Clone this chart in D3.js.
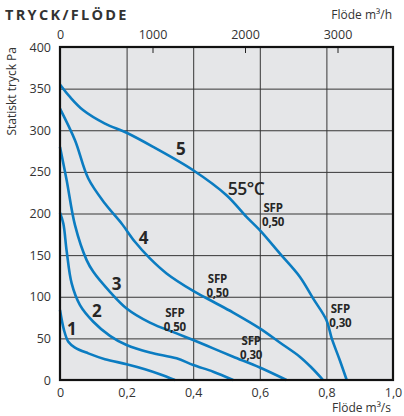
<!DOCTYPE html>
<html>
<head>
<meta charset="utf-8">
<script src="https://cdn.jsdelivr.net/npm/d3@7"></script>
<style>
  body { margin: 0; background: #fff; }
  svg { display: block; }
  text { font-family: "Open Sans", "Noto Sans", sans-serif; }
</style>
</head>
<body>
<svg id="chart" width="404" height="416"></svg>
<script>
// Axis ticks
const flowTicks = [0, 0.2, 0.4, 0.6, 0.8, 1.0];          // m³/s
const hourTicks = [0, 1000, 2000, 3000];                  // m³/h
const pressureTicks = [0, 50, 100, 150, 200, 250, 300, 350, 400]; // Pa

// Fan curves: flow (m³/s) and static pressure (Pa)
const curveNames = ["1", "2", "3", "4", "5"];
const flow1 = [0, 0.012, 0.025, 0.045, 0.085, 0.135, 0.2, 0.255, 0.3, 0.345];
const pres1 = [84, 60, 46, 39, 32, 25, 19, 13, 7, 0];
const flow2 = [0, 0.01, 0.02, 0.035, 0.06, 0.1, 0.15, 0.2, 0.27, 0.35, 0.4, 0.46, 0.52];
const pres2 = [201, 188, 155, 116, 90, 70, 53, 42, 33, 26, 18, 10, 0];
const flow3 = [0, 0.02, 0.045, 0.08, 0.1, 0.15, 0.2, 0.27, 0.35, 0.4, 0.46, 0.52, 0.6, 0.68];
const pres3 = [280, 240, 186, 144, 130, 106, 86, 69, 56, 48, 38, 28, 15, 0];
const flow4 = [0, 0.045, 0.085, 0.135, 0.185, 0.225, 0.27, 0.32, 0.4, 0.46, 0.52, 0.6, 0.66, 0.72, 0.755, 0.79];
const pres4 = [326, 288, 242, 212, 188, 166, 146, 128, 107, 94, 81, 62, 45, 28, 15, 0];
const flow5 = [0, 0.03, 0.07, 0.135, 0.2, 0.28, 0.4, 0.5, 0.56, 0.6, 0.66, 0.72, 0.76, 0.8, 0.816, 0.84, 0.861];
const pres5 = [355, 340, 324, 308, 297, 280, 252, 222, 196, 180, 152, 124, 98, 72, 50, 24, 0];

const flows = [flow1, flow2, flow3, flow4, flow5];
const pressures = [pres1, pres2, pres3, pres4, pres5];

const svg = d3.select("#chart");
const plotLeft = 60, plotRight = 393, plotTop = 47, plotBottom = 380;

const x = d3.scaleLinear().domain([0, 1]).range([plotLeft, plotRight]);
const xh = d3.scaleLinear().domain([0, 3600]).range([plotLeft, plotRight]);
const y = d3.scaleLinear().domain([0, 400]).range([plotBottom, plotTop]);

const axisColor = "#333";
const gridColor = "#363636";
const curveColor = "#0b7cc1";
const comma = d => d === 0 ? "0" : d3.format(".1f")(d).replace(".", ",");

// Title and unit captions
svg.append("text")
  .attr("x", 5).attr("y", 20)
  .attr("font-size", 14.5).attr("font-weight", 700)
  .attr("letter-spacing", 2.3)
  .attr("fill", "#333")
  .text("TRYCK/FLÖDE");

svg.append("text")
  .attr("x", 392).attr("y", 19)
  .attr("text-anchor", "end")
  .attr("font-size", 12).attr("fill", axisColor)
  .text("Flöde m³/h");

svg.append("text")
  .attr("x", 391).attr("y", 411.5)
  .attr("text-anchor", "end")
  .attr("font-size", 12).attr("fill", axisColor)
  .text("Flöde m³/s");

svg.append("text")
  .attr("transform", `translate(16,${plotTop}) rotate(-90)`)
  .attr("text-anchor", "end")
  .attr("font-size", 12).attr("fill", axisColor)
  .text("Statiskt tryck Pa");

// Plot background
svg.append("rect")
  .attr("x", plotLeft).attr("y", plotTop)
  .attr("width", plotRight - plotLeft).attr("height", plotBottom - plotTop)
  .attr("fill", "#e5e6e8");

// Grid lines
svg.append("g")
  .attr("transform", `translate(0,${plotBottom})`)
  .call(d3.axisBottom(x).tickValues(flowTicks).tickSize(-(plotBottom - plotTop)).tickFormat(""))
  .call(g => g.select(".domain").remove())
  .call(g => g.selectAll("line").attr("stroke", gridColor).attr("stroke-width", 1));

svg.append("g")
  .attr("transform", `translate(${plotLeft},0)`)
  .call(d3.axisLeft(y).tickValues(pressureTicks).tickSize(-(plotRight - plotLeft)).tickFormat(""))
  .call(g => g.select(".domain").remove())
  .call(g => g.selectAll("line").attr("stroke", gridColor).attr("stroke-width", 1));

// Short m³/h ticks along the top edge
svg.append("g")
  .attr("transform", `translate(0,${plotTop})`)
  .call(d3.axisBottom(xh).tickValues(hourTicks.slice(1)).tickSize(6).tickFormat(""))
  .call(g => g.select(".domain").remove())
  .call(g => g.selectAll("line").attr("stroke", "#222").attr("stroke-width", 1));

// Tick labels
svg.append("g")
  .attr("transform", `translate(0,${plotBottom})`)
  .call(d3.axisBottom(x).tickValues(flowTicks).tickSize(0).tickPadding(8).tickFormat(comma))
  .call(g => g.select(".domain").remove())
  .call(g => g.selectAll("text").attr("font-size", 12.5).attr("fill", axisColor)
    .attr("font-family", '"Open Sans", sans-serif'));

svg.append("g")
  .attr("transform", `translate(0,${plotTop})`)
  .call(d3.axisTop(xh).tickValues(hourTicks).tickSize(0).tickPadding(8).tickFormat(d3.format("d")))
  .call(g => g.select(".domain").remove())
  .call(g => g.selectAll("text").attr("font-size", 12.5).attr("fill", axisColor)
    .attr("font-family", '"Open Sans", sans-serif'));

svg.append("g")
  .attr("transform", `translate(${plotLeft},0)`)
  .call(d3.axisLeft(y).tickValues(pressureTicks).tickSize(0).tickPadding(9).tickFormat(d3.format("d")))
  .call(g => g.select(".domain").remove())
  .call(g => g.selectAll("text").attr("font-size", 12.5).attr("fill", axisColor)
    .attr("font-family", '"Open Sans", sans-serif'));

// Fan curves
const line = d3.line()
  .x(d => x(d[0]))
  .y(d => y(d[1]))
  .curve(d3.curveCatmullRom.alpha(0.5));

const plot = svg.append("g");
curveNames.forEach((name, i) => {
  const pts = flows[i].map((f, k) => [f, pressures[i][k]]);
  plot.append("path")
    .datum(pts)
    .attr("fill", "none")
    .attr("stroke", curveColor)
    .attr("stroke-width", 2.6)
    .attr("stroke-linecap", "butt")
    .attr("d", line);
});

// Frame
svg.append("rect")
  .attr("x", plotLeft).attr("y", plotTop)
  .attr("width", plotRight - plotLeft).attr("height", plotBottom - plotTop)
  .attr("fill", "none")
  .attr("stroke", "#111")
  .attr("stroke-width", 2.2);

// Curve numbers
const numberPos = [[0.036, 54], [0.111, 76], [0.170, 108], [0.251, 163], [0.363, 270]];
curveNames.forEach((name, i) => {
  svg.append("text")
    .attr("x", x(numberPos[i][0])).attr("y", y(numberPos[i][1]))
    .attr("text-anchor", "middle")
    .attr("font-size", 17).attr("font-weight", 700)
    .attr("fill", "#262626")
    .text(name);
});

svg.append("text")
  .attr("x", x(0.559)).attr("y", y(222))
  .attr("text-anchor", "middle")
  .attr("font-size", 17.5).attr("font-weight", 600)
  .attr("letter-spacing", -0.5)
  .attr("fill", "#262626")
  .text("55°C");

// SFP markers: two stacked lines each
const sfp = [
  [0.640, 202, "0,50"],
  [0.473, 116, "0,50"],
  [0.345, 76, "0,50"],
  [0.574, 42, "0,30"],
  [0.842, 80, "0,30"]
];
sfp.forEach(([fx, py, v]) => {
  [["SFP", 0], [v, 14]].forEach(([str, dy]) => {
    svg.append("text")
      .attr("x", x(fx)).attr("y", y(py) + dy)
      .attr("text-anchor", "middle")
      .attr("font-family", '"Liberation Sans", Arial, sans-serif')
      .attr("font-size", 11.5).attr("font-weight", 700)
      .attr("letter-spacing", -0.2)
      .attr("fill", "#262626")
      .text(str);
  });
});
</script>
</body>
</html>
